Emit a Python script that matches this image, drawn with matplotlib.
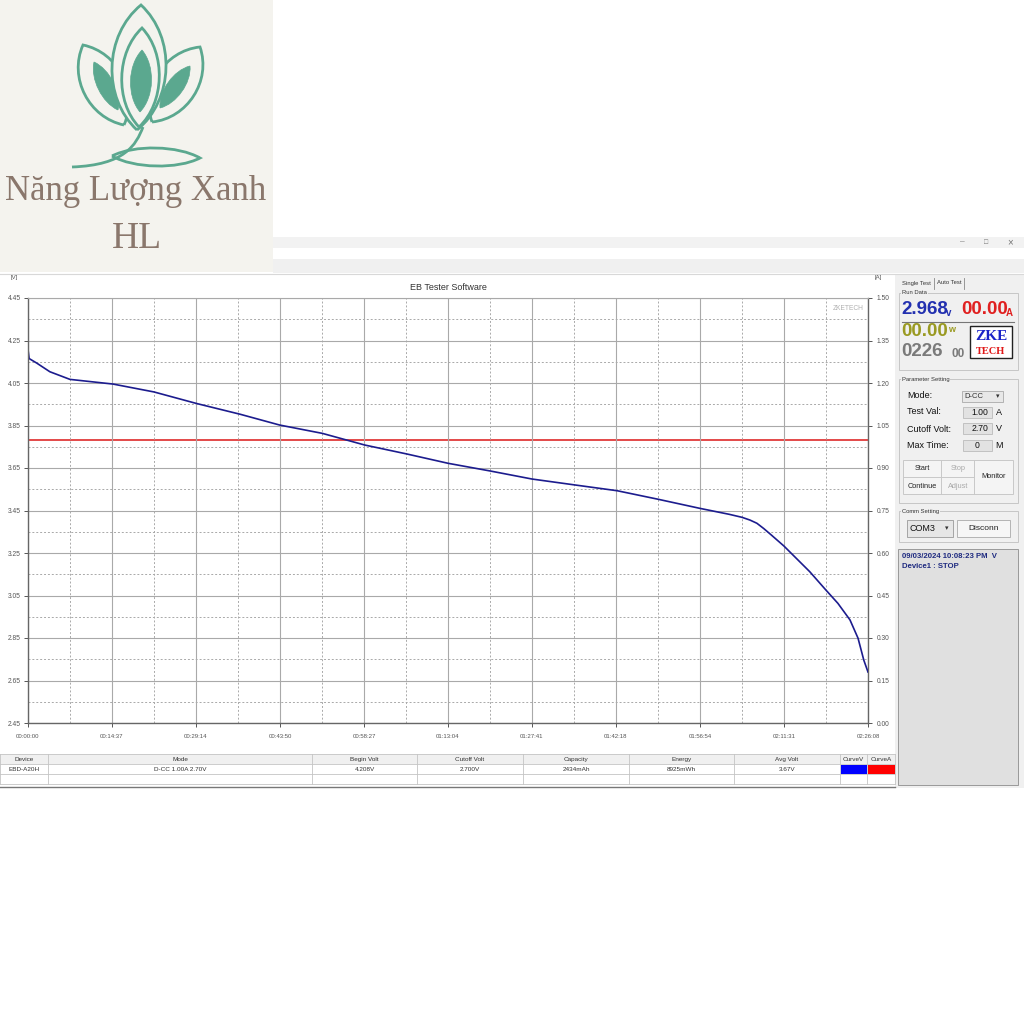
import numpy as np
import matplotlib
matplotlib.use("Agg")
import matplotlib.pyplot as plt
from matplotlib.patches import Rectangle, PathPatch
from matplotlib.path import Path

plt.rcParams['font.family'] = ['Liberation Sans', 'DejaVu Sans']

# discharge curve (time in minutes, volts)
time_min = [0, 0.2, 1.5, 3.8, 7.3, 14.8, 21.9, 29.4, 36.9, 43.8, 51.2, 58.6,
            65.9, 73.1, 80.4, 87.7, 95.2, 102.5, 109.6, 116.9, 122.0, 124.2,
            125.6, 126.8, 128.0, 129.3, 131.5, 136.0, 138.8, 140.9, 143.0,
            144.4, 145.4, 146.13]
volt = [4.208, 4.165, 4.144, 4.103, 4.067, 4.045, 4.008, 3.953, 3.903, 3.852,
        3.813, 3.758, 3.716, 3.672, 3.636, 3.598, 3.570, 3.543, 3.503, 3.460,
        3.432, 3.418, 3.405, 3.390, 3.365, 3.335, 3.283, 3.162, 3.076, 3.013,
        2.935, 2.849, 2.746, 2.690]
cur_t = [0, 0, 146.13]
cur_a = [0, 1.0, 1.0]

total_min = 146.133
x_labels = ['00:00:00', '00:14:37', '00:29:14', '00:43:50', '00:58:27',
            '01:13:04', '01:27:41', '01:42:18', '01:56:54', '02:11:31',
            '02:26:08']
v_ticks = [2.45, 2.65, 2.85, 3.05, 3.25, 3.45, 3.65, 3.85, 4.05, 4.25, 4.45]
a_ticks = [0.00, 0.15, 0.30, 0.45, 0.60, 0.75, 0.90, 1.05, 1.20, 1.35, 1.50]

table_headers = ['Device', 'Mode', 'Begin Volt', 'Cutoff Volt', 'Capacity',
                 'Energy', 'Avg Volt', 'CurveV', 'CurveA']
table_row = ['EBD-A20H', 'D-CC 1.00A 2.70V', '4.208V', '2.700V', '2434mAh',
             '8925mWh', '3.67V', '', '']
col_edges = [0, 48, 312, 417, 523, 629, 734, 840, 867, 895]

W = 1024
fig = plt.figure(figsize=(10.24, 10.24), dpi=100)
fig.patch.set_facecolor('white')

ov = fig.add_axes([0, 0, 1, 1])
ov.set_zorder(-1)
ov.set_xlim(0, W)
ov.set_ylim(W, 0)
ov.axis('off')


def box(x0, y0, x1, y1, fc='none', ec='none', lw=0.8, z=1):
    ov.add_patch(Rectangle((x0, y0), x1 - x0, y1 - y0, fc=fc, ec=ec, lw=lw, zorder=z))


def txt(x, y, s, size=5, color='#222', ha='left', **kw):
    ov.text(x, y, s, fontsize=size, color=color, ha=ha, va='center', **kw)


# ---- logo ----
teal = '#5ba88f'
logo_bg = '#f4f3ee'
box(0, 0, 273, 272, fc=logo_bg)


def leaf(a, b, d, filled=False, lw=2.0):
    a, b = np.array(a, float), np.array(b, float)
    v = b - a
    n = np.array([-v[1], v[0]]) / np.hypot(*v)
    verts = [a, a + 0.25 * v + n * d, a + 0.75 * v + n * d, b,
             a + 0.75 * v - n * d, a + 0.25 * v - n * d, a]
    codes = [Path.MOVETO] + [Path.CURVE4] * 6
    fc = teal if filled else logo_bg
    ov.add_patch(PathPatch(Path(verts, codes), fc=fc, ec=teal, lw=lw, zorder=2))


leaf((124, 125), (83, 45), 28)
leaf((118, 110), (94, 62), 11, filled=True, lw=0.5)
leaf((152, 122), (200, 47), 28)
leaf((160, 108), (190, 66), 11, filled=True, lw=0.5)
leaf((137, 130), (141, 5), 36)
leaf((139, 127), (142, 28), 25)
leaf((140, 112), (142, 50), 14, filled=True, lw=0.5)
leaf((112, 156), (200, 158), 12)
stem = Path([(72, 167), (125, 165), (136, 145), (143, 127)],
            [Path.MOVETO, Path.CURVE4, Path.CURVE4, Path.CURVE4])
ov.add_patch(PathPatch(stem, fc='none', ec=teal, lw=2.0, zorder=2))
ov.text(136, 192, 'Năng Lượng Xanh', fontsize=25, color='#8a776c', ha='center',
        va='center', family=['Liberation Serif', 'DejaVu Serif'])
ov.text(137, 239, 'HL', fontsize=27, color='#8a776c', ha='center', va='center',
        family=['Liberation Serif', 'DejaVu Serif'])

# ---- window chrome ----
box(273, 237, 1024, 248, fc='#f2f2f2')
box(273, 259, 1024, 273, fc='#f0f0f0')
txt(962, 242, '–', 6, '#777', ha='center')
txt(986, 242, '□', 5, '#777', ha='center')
txt(1010, 242, '×', 7, '#777', ha='center')
ov.plot([0, 1024], [274, 274], color='#d8d8d8', lw=0.8)

# ---- chart frame texts ----
txt(448, 288, 'EB Tester Software', 6.5, '#333', ha='center')
txt(14, 277, '[V]', 4.3, '#555', ha='center')
txt(878, 277, '[A]', 4.3, '#555', ha='center')

# ---- chart ----
ax = fig.add_axes([28 / W, 1 - 723 / W, 840 / W, 425 / W])
ax2 = ax.twinx()
ax.set_zorder(ax2.get_zorder() + 1)
ax.patch.set_visible(False)
ax2.patch.set_facecolor('white')

ax.plot(time_min, volt, color='#1c1c8e', lw=1.2)
ax2.plot(cur_t, cur_a, color='#e03a3a', lw=1.3)

ax.set_xlim(0, total_min)
ax.set_ylim(2.45, 4.45)
ax2.set_ylim(0, 1.5)

xt = np.linspace(0, total_min, 11)
ax.set_xticks(xt)
ax.set_xticklabels(x_labels)
ax.set_xticks((xt[:-1] + xt[1:]) / 2, minor=True)
ax.set_yticks(v_ticks)
ax.set_yticklabels(['%.2f' % v for v in v_ticks])
ax.set_yticks([v + 0.1 for v in v_ticks[:-1]], minor=True)
ax2.set_yticks(a_ticks)
ax2.set_yticklabels(['%.2f' % a for a in a_ticks])

grid_c = '#a9a9a9'
ax.grid(which='major', color=grid_c, lw=0.8, ls='-')
ax.grid(which='minor', color=grid_c, lw=0.7, ls=(0, (2, 2)))
ax.set_axisbelow(True)
ax.tick_params(which='minor', length=0)
ax.tick_params(axis='both', which='major', direction='out', length=3,
               width=0.7, color='#555', labelcolor='#555')
ax.tick_params(axis='x', labelsize=4.3, pad=5)
ax.tick_params(axis='y', labelsize=4.8, pad=2)
ax2.tick_params(axis='y', direction='out', length=3, width=0.7, color='#555',
                labelcolor='#555', labelsize=4.8, pad=3)

for s in ['left', 'bottom']:
    ax.spines[s].set_color('#666')
    ax.spines[s].set_linewidth(1.0)
ax.spines['top'].set_color(grid_c)
ax.spines['top'].set_linewidth(0.8)
ax.spines['right'].set_visible(False)
for s in ['left', 'top', 'bottom']:
    ax2.spines[s].set_visible(False)
ax2.spines['right'].set_color('#666')
ax2.spines['right'].set_linewidth(1.0)

ax.text(0.995, 0.975, 'ZKETECH', transform=ax.transAxes, ha='right', va='center',
        fontsize=4.8, color='#b0b0b0')

# ---- table under the chart ----
box(0, 753, 895, 787, fc='white')
box(0, 754, 895, 764, fc='#f0f0f0')
for y in (754, 764, 774, 784):
    ov.plot([0, 895], [y, y], color='#c4c4c4', lw=0.6)
ov.plot([0, 895], [787, 787], color='#777', lw=1.0)
for x in col_edges:
    ov.plot([x, x], [754, 784], color='#c4c4c4', lw=0.6)
for i, (h, r) in enumerate(zip(table_headers, table_row)):
    cx = (col_edges[i] + col_edges[i + 1]) / 2
    txt(cx, 759.5, h, 4.6, '#333', ha='center')
    if r:
        txt(cx, 769.5, r, 4.6, '#333', ha='center')
box(col_edges[7] + 1, 765, col_edges[8], 774, fc='#0000ff')
box(col_edges[8] + 1, 765, col_edges[9], 774, fc='#ff0000')

# ---- right control panel ----
box(895, 275, 1024, 788, fc='#f0f0f0', z=0)
txt(902, 283, 'Single Test', 4.2, '#333')
ov.plot([934, 934], [278, 289], color='#888', lw=0.6)
txt(937, 283, 'Auto Test', 4.2, '#333')
ov.plot([964, 964], [278, 289], color='#888', lw=0.6)

box(899, 293, 1018, 370, ec='#c6c6c6', lw=0.7)
txt(902, 293, 'Run Data', 4.2, '#333', bbox=dict(fc='#f0f0f0', ec='none', pad=0.5))
txt(901, 310, '2.968', 13.5, '#2230b0', weight='bold')
txt(946, 313, 'v', 7, '#2230b0', weight='bold')
txt(961, 310, '00.00', 13.5, '#e02020', weight='bold')
txt(1006, 313, 'A', 7, '#e02020', weight='bold')
ov.plot([902, 1014], [322, 322], color='#777', lw=0.8)
txt(901, 331, '00.00', 13.5, '#9a9a22', weight='bold')
txt(948, 329, 'w', 6.5, '#9a9a22', weight='bold')
txt(901, 351, '0226', 13.5, '#7a7a7a', weight='bold')
txt(951, 354, '00', 8.5, '#7a7a7a', weight='bold')
box(970, 326, 1012, 358, fc='white', ec='#222', lw=1.0)
ov.text(991, 336, 'ZKE', fontsize=11, color='#1a22c8', weight='bold', ha='center',
        va='center', family=['Liberation Serif', 'DejaVu Serif'])
ov.text(991, 351, 'TECH', fontsize=7.5, color='#e01818', weight='bold', ha='center',
        va='center', family=['Liberation Serif', 'DejaVu Serif'])

box(899, 379, 1018, 503, ec='#c6c6c6', lw=0.7)
txt(902, 379, 'Parameter Setting', 4.2, '#333', bbox=dict(fc='#f0f0f0', ec='none', pad=0.5))
txt(907, 396, 'Mode:', 6.5, '#111')
txt(907, 412, 'Test Val:', 6.5, '#111')
txt(907, 429, 'Cutoff Volt:', 6.5, '#111')
txt(907, 446, 'Max Time:', 6.5, '#111')
box(962, 391, 1003, 402, fc='#e8e8e8', ec='#aaa', lw=0.6)
txt(964, 396.5, 'D-CC', 5.5, '#333')
txt(998, 396.5, '▾', 5, '#333', ha='center')
for y0, val, unit in ((407, '1.00', 'A'), (423, '2.70', 'V'), (440, '0', 'M')):
    box(963, y0, 992, y0 + 11, fc='#e2e2e2', ec='#bbb', lw=0.6)
    if val == '0':
        txt(977, y0 + 5.5, val, 6.2, '#111', ha='center')
    else:
        txt(988, y0 + 5.5, val, 6.2, '#111', ha='right')
    txt(999, y0 + 5.5, unit, 6.5, '#111', ha='center')

box(903, 460, 1013, 494, fc='#f4f4f4', ec='#c8c8c8', lw=0.7)
ov.plot([941, 941], [460, 494], color='#c8c8c8', lw=0.7)
ov.plot([974, 974], [460, 494], color='#c8c8c8', lw=0.7)
ov.plot([903, 974], [477, 477], color='#c8c8c8', lw=0.7)
txt(922, 468.5, 'Start', 5.3, '#222', ha='center')
txt(958, 468.5, 'Stop', 5.3, '#aaa', ha='center')
txt(922, 486, 'Continue', 5.3, '#222', ha='center')
txt(958, 486, 'Adjust', 5.3, '#aaa', ha='center')
txt(994, 477, 'Monitor', 5.3, '#222', ha='center')

box(899, 511, 1018, 542, ec='#c6c6c6', lw=0.7)
txt(902, 511, 'Comm Setting', 4.2, '#333', bbox=dict(fc='#f0f0f0', ec='none', pad=0.5))
box(907, 520, 953, 537, fc='#e6e6e6', ec='#999', lw=0.6)
txt(909, 528.5, 'COM3', 6.5, '#111')
txt(947, 528.5, '▾', 5, '#333', ha='center')
box(957, 520, 1010, 537, fc='#f6f6f6', ec='#aaa', lw=0.6)
txt(983.5, 528.5, 'Disconn', 6, '#222', ha='center')

box(898, 549, 1018, 785, fc='#e0e0e0', ec='#999', lw=0.7)
txt(902, 556, '09/03/2024 10:08:23 PM  V', 5.6, '#1e2a80', weight='bold')
txt(902, 567, 'Device1 : STOP', 5.6, '#1e2a80', weight='bold')

fig.savefig('out.png', dpi=100)
